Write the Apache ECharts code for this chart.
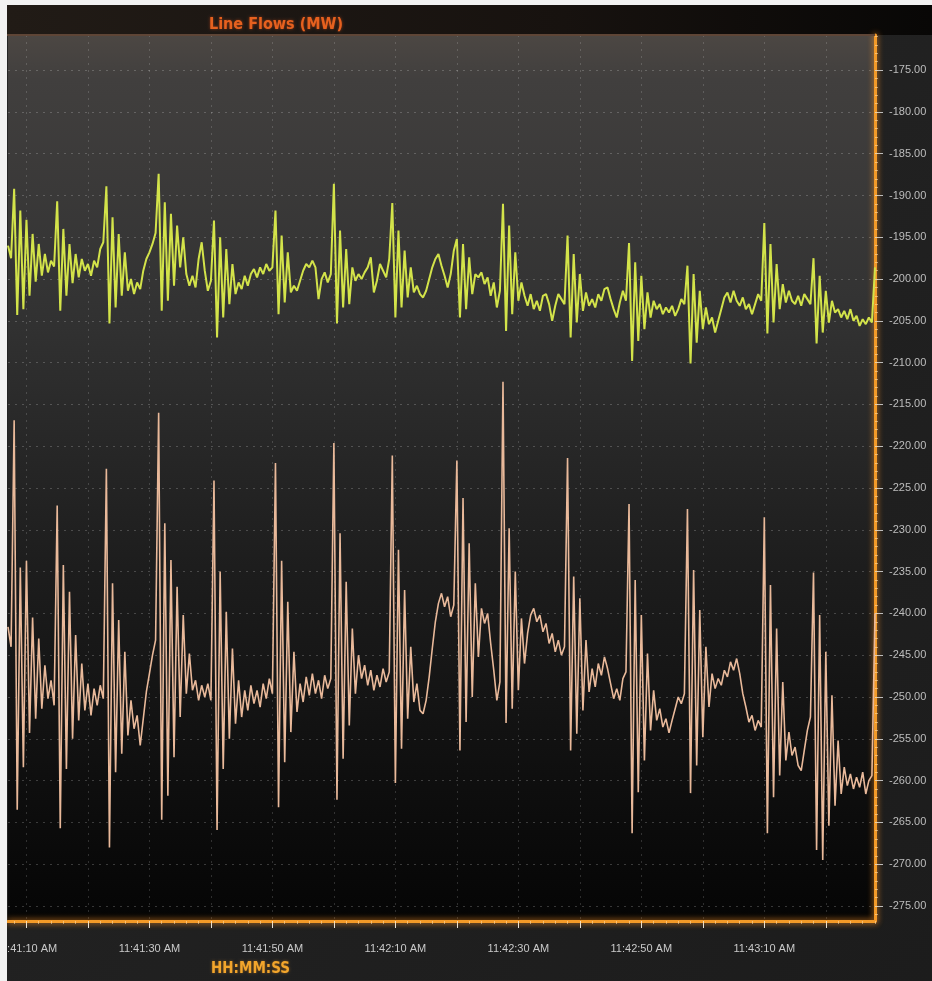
<!DOCTYPE html>
<html>
<head>
<meta charset="utf-8">
<script src="https://cdn.jsdelivr.net/npm/echarts@6/dist/echarts.min.js"></script>
<style>
  html, body { margin: 0; padding: 0; width: 932px; height: 981px; overflow: hidden; background: #f2f2f2; }
  #chart { position: absolute; left: 7px; top: 5px; width: 925px; height: 976px; background: #222222; }
</style>
</head>
<body>
<div id="chart"></div>
<script>
// Sampling of the two line-flow channels (seconds since midnight, 0.5 s apart)
const startSecond = 42067;   // 11:41:07 AM
const endSecond = 42208;     // 11:43:28 AM
const sampleStep = 0.5;

// Upper channel, MW
const upperFlow = [
  -196.0, -197.5, -189.2, -204.3, -191.8, -203.6, -192.9, -202.0, -194.6, -200.3,
  -195.8, -199.6, -197.0, -199.2, -197.8, -198.5, -190.7, -203.8, -194.0, -202.0,
  -195.8, -200.5, -197.0, -199.8, -197.6, -199.0, -198.2, -199.6, -197.8, -198.6,
  -196.4, -195.6, -188.9, -205.3, -192.6, -203.4, -194.6, -202.0, -196.8, -201.4,
  -200.0, -201.8, -200.4, -201.2, -199.0, -197.6, -196.8, -195.8, -194.5, -187.4,
  -203.8, -190.8, -202.6, -192.2, -200.8, -193.6, -198.6, -195.0, -199.4, -200.8,
  -199.6, -201.0, -197.6, -195.6, -199.0, -201.4, -200.2, -193.0, -207.0, -195.0,
  -204.6, -196.4, -203.0, -198.2, -201.8, -200.4, -201.2, -199.6, -200.8, -199.4,
  -198.8, -199.8, -198.6, -199.4, -198.2, -199.0, -198.6, -191.8, -204.2, -194.8,
  -202.8, -196.8, -201.6, -200.8, -201.4, -200.2, -199.0, -198.2, -198.6, -197.8,
  -198.6, -202.4, -200.0, -199.2, -200.4, -199.4, -188.6, -205.3, -194.2, -203.4,
  -196.4, -203.0, -198.6, -200.2, -199.4, -200.0, -199.2, -198.6, -197.4, -201.6,
  -200.2, -198.2, -199.0, -199.8, -197.6, -190.9, -204.6, -194.2, -203.4, -196.6,
  -202.2, -198.6, -201.6, -200.8, -201.8, -202.2, -201.4, -200.0, -198.6, -197.6,
  -197.0, -198.4, -199.6, -201.0, -199.4, -196.6, -195.2, -204.6, -195.8, -203.6,
  -197.4, -201.8, -199.4, -199.8, -199.2, -200.6, -199.8, -202.0, -200.4, -203.4,
  -201.4, -191.0, -206.2, -193.6, -204.2, -196.8, -202.6, -200.4, -202.0, -203.2,
  -201.8, -203.6, -202.6, -203.8, -202.0, -201.8, -203.0, -205.0, -203.2, -201.8,
  -202.4, -203.0, -194.8, -207.0, -197.0, -205.2, -199.4, -203.8, -201.6, -203.2,
  -202.4, -203.4, -201.8, -202.6, -201.2, -201.0, -202.4, -203.6, -204.6, -202.8,
  -201.4, -202.6, -195.7, -209.8, -198.0, -207.4, -199.6, -206.0, -201.6, -204.6,
  -202.6, -203.6, -203.0, -204.2, -203.4, -204.0, -203.2, -204.4, -203.6, -202.4,
  -203.0, -198.4, -210.1, -199.4, -207.6, -201.4, -206.0, -203.4, -205.4, -204.6,
  -206.4, -205.0, -203.6, -202.2, -201.6, -202.8, -201.4, -202.6, -203.2, -202.2,
  -203.6, -203.0, -204.2, -203.0, -201.8, -202.6, -193.3, -206.5, -195.8, -205.2,
  -198.2, -203.6, -200.6, -202.8, -201.4, -202.6, -203.0, -202.0, -203.2, -201.8,
  -202.4, -203.0, -197.5, -207.7, -199.6, -206.4, -201.4, -205.2, -202.6, -204.0,
  -203.6, -204.6, -203.8, -204.8, -203.6, -205.0, -204.4, -205.6, -204.8, -205.4,
  -204.6, -205.2, -198.6
];

// Lower channel, MW
const lowerFlow = [
  -241.6, -244.0, -216.9, -263.5, -234.5, -258.4, -233.7, -254.3, -240.5, -252.6,
  -243.0, -251.4, -246.2, -250.2, -248.0, -251.0, -227.1, -265.7, -234.2, -258.6,
  -237.4, -255.0, -242.6, -252.8, -246.0, -251.6, -248.4, -252.2, -249.0, -251.0,
  -248.6, -250.2, -222.7, -268.0, -236.4, -259.0, -240.8, -256.8, -244.6, -254.6,
  -250.4, -253.8, -252.2, -255.8, -252.6, -249.4, -247.2, -245.0, -243.2, -216.0,
  -264.7, -229.2, -261.8, -233.6, -257.2, -236.8, -252.4, -240.2, -249.6, -244.8,
  -249.2, -248.0, -250.4, -248.6, -250.0, -248.4, -250.4, -224.1, -265.9, -235.0,
  -258.6, -239.8, -255.0, -244.2, -253.2, -248.0, -252.4, -249.2, -251.6, -248.6,
  -250.8, -249.2, -251.2, -248.4, -250.2, -247.8, -249.6, -222.0, -263.2, -233.7,
  -257.8, -238.6, -254.2, -244.6, -251.8, -248.4, -250.6, -247.6, -249.8, -247.2,
  -249.6, -248.0, -250.2, -247.4, -249.0, -247.8, -219.6, -262.3, -230.4, -257.4,
  -236.2, -253.4, -241.8, -249.6, -245.0, -247.8, -246.2, -248.6, -246.8, -249.2,
  -247.4, -248.8, -246.6, -248.2, -247.0, -221.1, -260.3, -232.4, -256.2, -237.2,
  -252.6, -244.0, -250.6, -248.4, -251.6, -252.0, -250.4, -247.6, -244.2, -241.0,
  -238.8, -237.6, -239.2, -238.0, -240.4, -239.0, -221.7, -256.4, -226.2, -253.0,
  -231.6, -250.0, -236.4, -245.2, -239.4, -241.2, -240.0, -243.6, -246.8, -250.4,
  -248.2, -212.3, -253.1, -229.8, -251.4, -235.0, -249.2, -240.6, -246.0, -242.4,
  -240.2, -239.4, -241.0, -240.2, -242.2, -241.2, -243.6, -242.4, -244.6, -243.2,
  -245.0, -244.0, -221.4, -256.4, -235.6, -254.4, -238.2, -251.6, -243.2, -249.4,
  -246.6, -248.8, -246.0, -247.4, -245.2, -246.6, -248.4, -250.2, -249.0, -250.4,
  -247.8, -247.0, -226.9, -266.3, -236.0, -261.4, -240.2, -257.6, -244.8, -254.0,
  -249.2, -252.8, -251.4, -253.6, -252.6, -254.3, -252.8, -251.4, -250.0, -250.8,
  -249.6, -227.5, -261.5, -234.8, -258.2, -239.6, -254.8, -244.0, -251.2, -247.2,
  -249.0, -247.8, -248.6, -246.8, -247.6, -245.8, -246.8, -245.4, -247.2, -249.6,
  -251.2, -253.0, -252.2, -254.0, -252.8, -253.6, -228.5, -266.3, -236.6, -262.0,
  -241.8, -259.4, -248.2, -257.6, -254.2, -257.0, -256.0, -258.2, -258.8, -256.4,
  -254.0, -252.4, -235.1, -268.3, -240.2, -269.5, -244.6, -265.4, -249.8, -263.0,
  -255.2, -261.6, -258.4, -260.6, -259.2, -261.0, -259.6, -260.8, -259.0, -261.6,
  -260.0, -259.4, -240.0
];

// Axis ticks and labels
const timeTicks = [42070, 42080, 42090, 42100, 42110, 42120, 42130, 42140, 42150, 42160, 42170, 42180, 42190, 42200];
const timeLabels = [42070, 42090, 42110, 42130, 42150, 42170, 42190];
const valueTicks = [-275, -270, -265, -260, -255, -250, -245, -240, -235, -230, -225, -220, -215, -210, -205, -200, -195, -190, -185, -180, -175];
const valueMin = -276.8;
const valueMax = -170.8;

// small ticks along the orange axis lines
const timeMinorTicks = [];
for (let s = 42068; s <= endSecond; s += 2) timeMinorTicks.push(s);
const valueMinorTicks = [];
for (let v = -276; v <= -171; v += 1) valueMinorTicks.push(v);

function pad(n) { return (n < 10 ? '0' : '') + n; }
function clockLabel(sec) {
  const h = Math.floor(sec / 3600);
  const m = Math.floor((sec % 3600) / 60);
  const s = Math.round(sec % 60);
  const h12 = h % 12 === 0 ? 12 : h % 12;
  return h12 + ':' + pad(m) + ':' + pad(s) + ' ' + (h < 12 ? 'AM' : 'PM');
}

function toSeries(values) {
  return values.map((v, i) => [startSecond + i * sampleStep, v]);
}

const narrowFont = "'Liberation Sans Narrow', 'DejaVu Sans Condensed', 'Liberation Sans', sans-serif";
const labelFont = "'Liberation Sans', Arial, sans-serif";
const axisOrange = '#f39a28';

const chart = echarts.init(document.getElementById('chart'), null, { renderer: 'canvas' });

chart.setOption({
  animation: false,
  backgroundColor: new echarts.graphic.LinearGradient(0, 0, 1, 1, [
    { offset: 0, color: '#262626' },
    { offset: 1, color: '#1c1c1c' }
  ]),
  graphic: [
    {
      type: 'rect',
      shape: { x: 0, y: 0, width: 925, height: 30 },
      style: {
        fill: new echarts.graphic.LinearGradient(0, 0, 1, 0, [
          { offset: 0, color: '#211b16' },
          { offset: 0.6, color: '#17120f' },
          { offset: 1, color: '#080706' }
        ])
      },
      z: 0
    },
    {
      type: 'rect',
      shape: { x: 0, y: 29, width: 868, height: 2 },
      style: { fill: '#5e4536' },
      z: 1
    }
  ],
  title: [
    {
      text: 'Line Flows (MW)',
      left: 197,
      top: 7,
      textStyle: {
        color: '#e6611f',
        fontFamily: narrowFont,
        fontWeight: 'bold',
        fontSize: 16,
        textShadowColor: 'rgba(230,80,20,0.6)',
        textShadowBlur: 3
      }
    },
    {
      text: 'HH:MM:SS',
      left: 199,
      top: 952,
      textStyle: {
        color: '#f2a52c',
        fontFamily: narrowFont,
        fontWeight: 'bold',
        fontSize: 15,
        textShadowColor: 'rgba(240,150,30,0.5)',
        textShadowBlur: 3
      }
    }
  ],
  grid: {
    left: 1,
    right: 57,
    top: 30,
    bottom: 60,
    containLabel: false,
    outerBoundsMode: 'none',
    show: true,
    borderWidth: 0,
    backgroundColor: new echarts.graphic.LinearGradient(0, 0, 0, 1, [
      { offset: 0, color: '#4c4743' },
      { offset: 0.05, color: '#413f3e' },
      { offset: 0.3, color: '#333333' },
      { offset: 0.6, color: '#1d1d1d' },
      { offset: 1, color: '#050505' }
    ])
  },
  xAxis: [
    {
      type: 'value',
      min: startSecond,
      max: endSecond,
      position: 'bottom',
      axisLine: {
        show: true,
        lineStyle: { color: axisOrange, width: 3, shadowColor: 'rgba(255,150,40,0.9)', shadowBlur: 6 }
      },
      axisTick: {
        show: true,
        customValues: timeTicks,
        length: 7,
        lineStyle: { color: '#e9e2d6', width: 1 }
      },
      axisLabel: {
        customValues: timeLabels,
        formatter: clockLabel,
        color: '#c9c9c9',
        fontFamily: labelFont,
        fontSize: 11,
        margin: 22
      },
      splitLine: {
        show: true,
        lineStyle: { color: 'rgba(255,255,255,0.16)', width: 1, type: [2, 5] }
      }
    },
    {
      type: 'value',
      min: startSecond,
      max: endSecond,
      position: 'bottom',
      axisLine: { show: false },
      axisTick: {
        show: true,
        customValues: timeMinorTicks,
        length: 3,
        lineStyle: { color: '#ffd9a0', width: 1, opacity: 0.6 }
      },
      axisLabel: { show: false },
      splitLine: { show: false }
    }
  ],
  yAxis: [
    {
      type: 'value',
      min: valueMin,
      max: valueMax,
      position: 'right',
      axisLine: {
        show: true,
        lineStyle: { color: axisOrange, width: 3, shadowColor: 'rgba(255,150,40,0.9)', shadowBlur: 6 }
      },
      axisTick: {
        show: true,
        customValues: valueTicks,
        length: 8,
        lineStyle: { color: '#bdbdbd', width: 1 }
      },
      axisLabel: {
        customValues: valueTicks,
        formatter: v => v.toFixed(2),
        color: '#bdbdbd',
        fontFamily: labelFont,
        fontSize: 11,
        margin: 14
      },
      splitLine: {
        show: true,
        lineStyle: { color: 'rgba(255,255,255,0.2)', width: 1, type: [2, 5] }
      }
    },
    {
      type: 'value',
      min: valueMin,
      max: valueMax,
      position: 'right',
      axisLine: { show: false },
      axisTick: {
        show: true,
        customValues: valueMinorTicks,
        length: 3,
        lineStyle: { color: '#ffd9a0', width: 1, opacity: 0.6 }
      },
      axisLabel: { show: false },
      splitLine: { show: false }
    }
  ],
  series: [
    {
      name: 'Upper flow',
      type: 'line',
      xAxisIndex: 0,
      yAxisIndex: 0,
      data: toSeries(upperFlow),
      showSymbol: false,
      symbol: 'none',
      lineStyle: { color: '#d3e34a', width: 2 },
      z: 3
    },
    {
      name: 'Lower flow',
      type: 'line',
      xAxisIndex: 0,
      yAxisIndex: 0,
      data: toSeries(lowerFlow),
      showSymbol: false,
      symbol: 'none',
      lineStyle: { color: '#e9b99a', width: 1.6 },
      z: 3
    }
  ]
});
</script>
</body>
</html>
